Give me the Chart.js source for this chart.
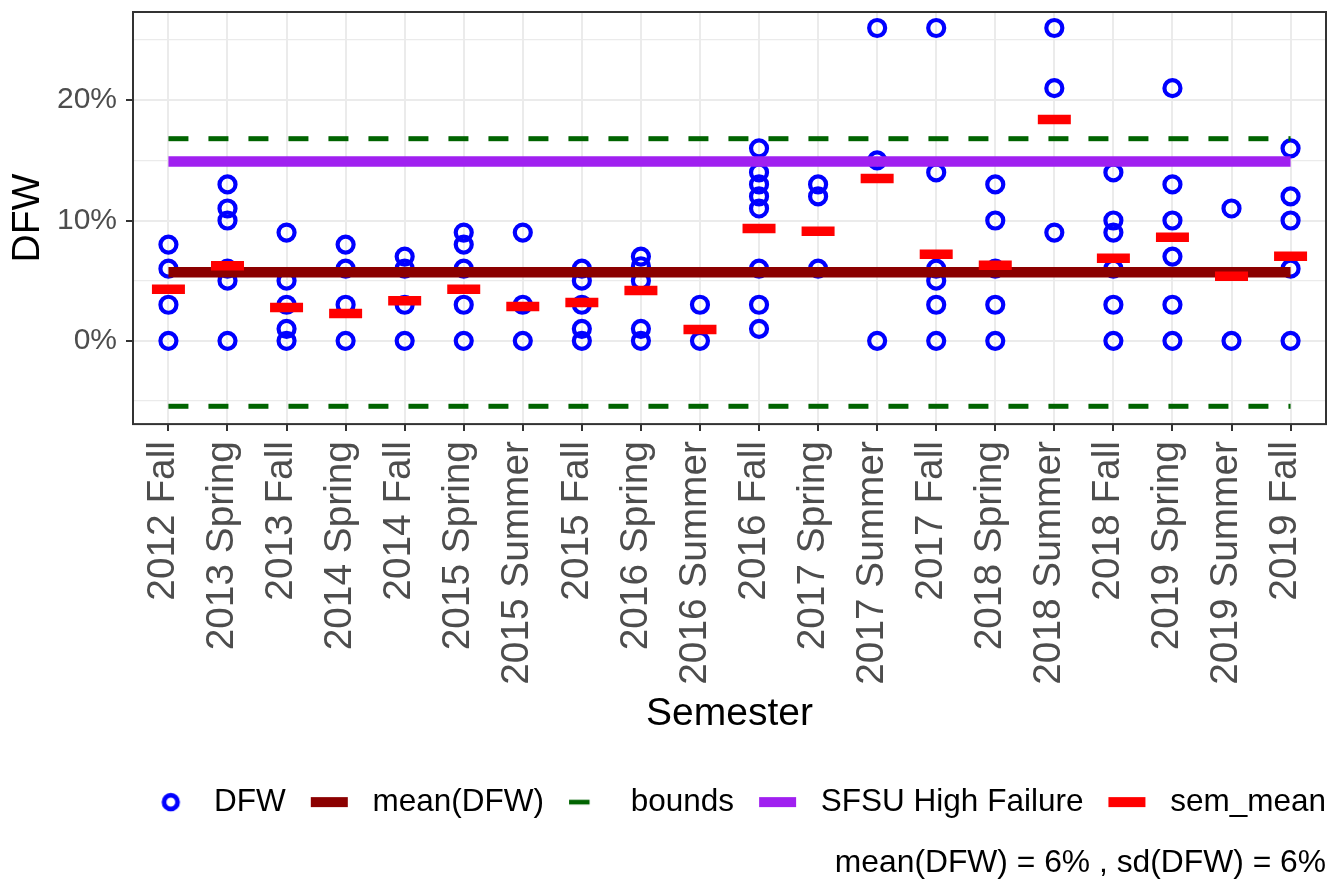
<!DOCTYPE html>
<html>
<head>
<meta charset="utf-8">
<title>DFW by semester</title>
<script src="https://cdn.jsdelivr.net/npm/chart.js@4.4.1/dist/chart.umd.min.js"></script>
<style>
  html, body { margin: 0; padding: 0; background: #fff; }
  canvas { display: block; }
</style>
</head>
<body>
<canvas id="dfwChart" width="1332" height="882"></canvas>
<script>
// semesters on the x axis
const semesters = ['2012 Fall', '2013 Spring', '2013 Fall', '2014 Spring', '2014 Fall',
    '2015 Spring', '2015 Summer', '2015 Fall', '2016 Spring', '2016 Summer',
    '2016 Fall', '2017 Spring', '2017 Summer', '2017 Fall', '2018 Spring',
    '2018 Summer', '2018 Fall', '2019 Spring', '2019 Summer', '2019 Fall'];

// DFW rate (%) of each section, one list per semester
const dfwValues = [
    [8, 6, 3, 0],
    [13, 11, 10, 6, 5, 0],
    [9, 5, 3, 1, 0],
    [8, 6, 3, 0],
    [7, 6, 3, 0],
    [9, 8, 6, 3, 0],
    [9, 3, 0],
    [6, 5, 3, 1, 0],
    [7, 6.2, 5, 1, 0],
    [3, 0],
    [16, 14, 13, 12, 11, 6, 3, 1],
    [13, 12, 6],
    [26, 15, 0],
    [26, 14, 6, 5, 3, 0],
    [13, 10, 6, 3, 0],
    [26, 21, 9],
    [14, 10, 9, 6, 3, 0],
    [21, 13, 10, 7, 3, 0],
    [11, 0],
    [16, 12, 10, 6, 0]
];

// semester mean (red marks)
const semMean = [4.28, 6.25, 2.78, 2.28, 3.33, 4.28, 2.86, 3.19, 4.19, 0.94,
    9.33, 9.1, 13.5, 7.19, 6.28, 18.4, 6.86, 8.6, 5.36, 7.03];

const meanDFW = 5.69;
const boundsUpper = 16.8;
const boundsLower = -5.44;
const sfsuHighFailure = 14.9;

const yTicks = [-5, 0, 5, 10, 15, 20, 25];
const caption = 'mean(DFW) = 6% , sd(DFW) = 6%';

Chart.defaults.font.family = "'Liberation Sans', Arial, sans-serif";

const dfwPoints = dfwValues.flatMap((vals, i) => vals.map(v => ({ x: i, y: v })));
const semPoints = semMean.map((v, i) => ({ x: i, y: v }));
const span = y => [{ x: 0, y: y }, { x: semesters.length - 1, y: y }];

// little canvases used as legend keys (key box centred at x = 43.5)
function keyImage(draw) {
    const c = document.createElement('canvas');
    c.width = 71;
    c.height = 24;
    draw(c.getContext('2d'), 43.5, 12);
    return c;
}
const keyRect = (color, w, h, dx) => keyImage((g, cx, cy) => {
    g.fillStyle = color;
    g.fillRect(cx - w / 2 + (dx || 0), cy - h / 2, w, h);
});
const keyCircle = keyImage((g, cx, cy) => {
    g.strokeStyle = '#0000FF';
    g.lineWidth = 4.7;
    g.beginPath();
    g.arc(cx, cy, 6.8, 0, Math.PI * 2);
    g.stroke();
});

const legendKeys = [
    { text: 'DFW', pointStyle: keyCircle },
    { text: 'mean(DFW)', pointStyle: keyRect('#8B0000', 37, 10) },
    { text: 'bounds', pointStyle: keyRect('#006400', 20.5, 4.7, -8.25) },
    { text: 'SFSU High Failure', pointStyle: keyRect('#A020F0', 37, 10) },
    { text: 'sem_mean', pointStyle: keyRect('#FF0000', 37, 10) }
];

const panelBorder = {
    id: 'panelBorder',
    afterDatasetsDraw(chart) {
        const { ctx, chartArea: a } = chart;
        ctx.save();
        ctx.strokeStyle = '#333333';
        ctx.lineWidth = 2;
        ctx.strokeRect(a.left, a.top, a.right - a.left, a.bottom - a.top);
        ctx.restore();
    }
};

const isMajor = c => c.tick && c.tick.value % 10 === 0;

new Chart(document.getElementById('dfwChart').getContext('2d'), {
    type: 'scatter',
    data: {
        datasets: [{
            label: 'sem_mean',
            data: semPoints,
            pointStyle: 'line',
            pointRadius: 16.5,
            pointBorderWidth: 9.5,
            pointBorderColor: '#FF0000',
            pointBackgroundColor: '#FF0000',
            order: 0
        }, {
            label: 'SFSU High Failure',
            data: span(sfsuHighFailure),
            showLine: true,
            borderColor: '#A020F0',
            borderWidth: 10.5,
            pointRadius: 0,
            order: 1
        }, {
            label: 'mean(DFW)',
            data: span(meanDFW),
            showLine: true,
            borderColor: '#8B0000',
            borderWidth: 10.5,
            pointRadius: 0,
            order: 2
        }, {
            label: 'bounds',
            data: span(boundsUpper),
            showLine: true,
            borderColor: '#006400',
            borderWidth: 5,
            borderDash: [20, 20],
            pointRadius: 0,
            order: 3
        }, {
            label: 'bounds',
            data: span(boundsLower),
            showLine: true,
            borderColor: '#006400',
            borderWidth: 5,
            borderDash: [20, 20],
            pointRadius: 0,
            order: 3
        }, {
            label: 'DFW',
            data: dfwPoints,
            pointStyle: 'circle',
            pointRadius: 8,
            pointBorderWidth: 4.2,
            pointBorderColor: '#0000FF',
            pointBackgroundColor: 'rgba(0,0,0,0)',
            order: 4
        }]
    },
    options: {
        responsive: false,
        animation: false,
        events: [],
        layout: { autoPadding: false, padding: { top: 12, right: 6, bottom: 0, left: 0 } },
        scales: {
            x: {
                type: 'linear',
                min: -0.6,
                max: semesters.length - 0.4,
                afterBuildTicks: s => { s.ticks = semesters.map((_, i) => ({ value: i })); },
                afterFit: s => { s.height = 362.25; s.paddingLeft = 0; s.paddingRight = 0; },
                ticks: {
                    callback: v => semesters[v],
                    minRotation: 90,
                    maxRotation: 90,
                    autoSkip: false,
                    padding: 10,
                    labelOffset: -5,
                    color: '#4D4D4D',
                    font: { size: 38.8 }
                },
                grid: { color: '#EBEBEB', lineWidth: 2, tickColor: '#333333', tickLength: 7, tickWidth: 2 },
                border: { display: false },
                title: {
                    display: true,
                    text: 'Semester',
                    color: '#000',
                    font: { size: 39 },
                    padding: { top: 0, bottom: 48.5 }
                }
            },
            y: {
                min: -6.92,
                max: 27.33,
                afterBuildTicks: s => { s.ticks = yTicks.map(v => ({ value: v })); },
                afterFit: s => { s.width = 133; s.paddingTop = 0; s.paddingBottom = 0; },
                ticks: {
                    callback: v => v % 10 === 0 ? v + '%' : '',
                    padding: 9,
                    color: '#4D4D4D',
                    font: { size: 30 }
                },
                grid: {
                    color: '#EBEBEB',
                    lineWidth: c => isMajor(c) ? 2 : 1.2,
                    tickColor: c => isMajor(c) ? '#333333' : 'rgba(0,0,0,0)',
                    tickLength: 7,
                    tickWidth: 2
                },
                border: { display: false },
                title: {
                    display: true,
                    text: 'DFW',
                    color: '#000',
                    font: { size: 39 },
                    padding: { top: 5, bottom: 0 }
                }
            }
        },
        plugins: {
            tooltip: { enabled: false },
            legend: {
                position: 'bottom',
                align: 'end',
                labels: {
                    usePointStyle: true,
                    pointStyleWidth: 71,
                    padding: 0,
                    color: '#000',
                    font: { size: 31.5 },
                    generateLabels: () => legendKeys.map((k, i) => ({
                        text: k.text,
                        pointStyle: k.pointStyle,
                        fillStyle: 'rgba(0,0,0,0)',
                        strokeStyle: 'rgba(0,0,0,0)',
                        lineWidth: 0,
                        hidden: false,
                        datasetIndex: i
                    }))
                }
            },
            title: {
                display: true,
                position: 'bottom',
                align: 'end',
                text: caption,
                color: '#000',
                font: { size: 31.8, weight: 'normal' },
                padding: { top: 16, bottom: 0 }
            }
        }
    },
    plugins: [panelBorder]
});
</script>
</body>
</html>
